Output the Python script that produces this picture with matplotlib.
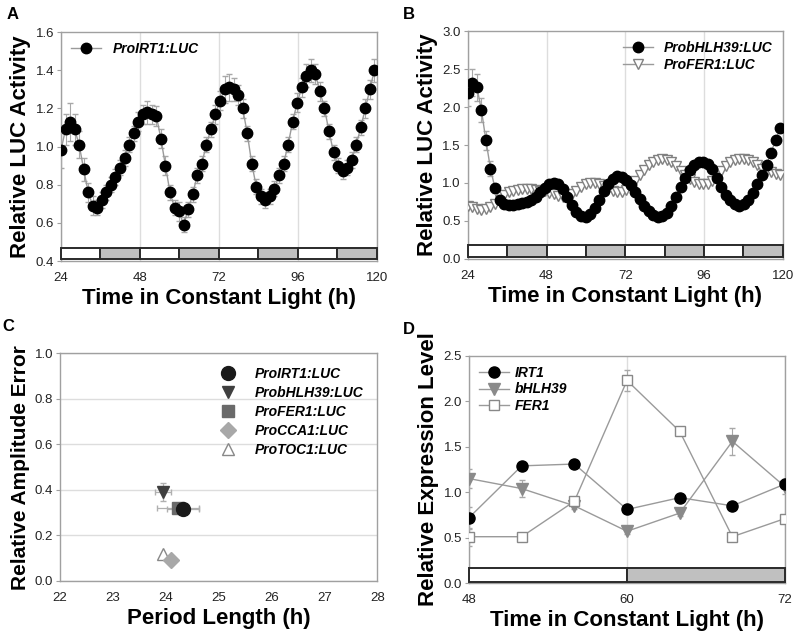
import numpy as np
import matplotlib
matplotlib.use("Agg")
import matplotlib.pyplot as plt
from matplotlib.patches import Rectangle

plt.rcParams["font.family"] = ["Liberation Sans", "DejaVu Sans"]

# ---------- data ----------
# panels A/B: sampled roughly every 1.38 h from 24 h
t_luc = 24 + 1.38 * np.arange(70)

irt1_luc = [0.98, 1.09, 1.13, 1.09, 1.01, 0.88, 0.76, 0.69, 0.68, 0.72,
            0.76, 0.80, 0.84, 0.89, 0.94, 1.01, 1.07, 1.13, 1.17, 1.18,
            1.17, 1.16, 1.04, 0.90, 0.76, 0.68, 0.66, 0.59, 0.67, 0.75,
            0.85, 0.91, 1.01, 1.09, 1.17, 1.24, 1.30, 1.31, 1.30, 1.27,
            1.20, 1.07, 0.91, 0.79, 0.74, 0.72, 0.74, 0.78, 0.85, 0.91,
            1.01, 1.13, 1.23, 1.31, 1.37, 1.40, 1.38, 1.29, 1.20, 1.08,
            0.97, 0.90, 0.87, 0.89, 0.93, 1.01, 1.10, 1.20, 1.30, 1.40]
irt1_err = [0.09, 0.08, 0.10, 0.08, 0.07, 0.06, 0.05, 0.05, 0.04, 0.04,
            0.04, 0.04, 0.04, 0.04, 0.04, 0.04, 0.04, 0.05, 0.05, 0.06,
            0.05, 0.05, 0.05, 0.05, 0.04, 0.04, 0.05, 0.04, 0.04, 0.04,
            0.04, 0.04, 0.04, 0.04, 0.05, 0.05, 0.07, 0.07, 0.06, 0.05,
            0.05, 0.04, 0.04, 0.04, 0.04, 0.04, 0.04, 0.04, 0.04, 0.04,
            0.04, 0.04, 0.05, 0.05, 0.06, 0.06, 0.05, 0.05, 0.04, 0.04,
            0.04, 0.04, 0.04, 0.04, 0.04, 0.04, 0.04, 0.05, 0.05, 0.06]

bhlh39_luc = [2.19, 2.32, 2.26, 1.96, 1.56, 1.19, 0.93, 0.78, 0.72, 0.71,
              0.71, 0.72, 0.73, 0.75, 0.78, 0.82, 0.88, 0.94, 0.98, 1.00,
              0.98, 0.92, 0.82, 0.71, 0.62, 0.56, 0.55, 0.59, 0.67, 0.78,
              0.89, 0.98, 1.05, 1.09, 1.08, 1.04, 0.97, 0.88, 0.79, 0.70,
              0.63, 0.58, 0.55, 0.56, 0.61, 0.70, 0.82, 0.95, 1.07, 1.17,
              1.23, 1.27, 1.28, 1.25, 1.18, 1.07, 0.95, 0.84, 0.77, 0.72,
              0.70, 0.72, 0.78, 0.87, 0.98, 1.10, 1.24, 1.40, 1.56, 1.72]
bhlh39_err = [0.17, 0.18, 0.18, 0.16, 0.13, 0.10, 0.06] + [0.03] * 63

fer1_luc = [0.70, 0.68, 0.66, 0.65, 0.66, 0.68, 0.72, 0.78, 0.84, 0.88,
            0.90, 0.91, 0.92, 0.92, 0.92, 0.91, 0.90, 0.89, 0.87, 0.85,
            0.83, 0.82, 0.83, 0.86, 0.90, 0.95, 0.98, 1.00, 1.00, 0.99,
            0.96, 0.92, 0.89, 0.88, 0.88, 0.91, 0.96, 1.03, 1.10, 1.17,
            1.23, 1.27, 1.30, 1.31, 1.30, 1.27, 1.22, 1.16, 1.10, 1.05,
            1.01, 0.99, 0.98, 0.99, 1.03, 1.09, 1.16, 1.22, 1.27, 1.30,
            1.32, 1.32, 1.30, 1.27, 1.23, 1.19, 1.16, 1.14, 1.12, 1.10]

# subjective light / dark periods (start, end, dark?)
periods_ab = [(24, 36, False), (36, 48, True), (48, 60, False), (60, 72, True),
              (72, 84, False), (84, 96, True), (96, 108, False), (108, 120, True)]
periods_d = [(48, 60, False), (60, 72, True)]

# panel C: period length vs relative amplitude error
c_names = ["ProIRT1:LUC", "ProbHLH39:LUC", "ProFER1:LUC", "ProCCA1:LUC", "ProTOC1:LUC"]
c_period = [24.32, 23.94, 24.23, 24.10, 23.95]
c_period_err = [0.30, 0.15, 0.40, 0.0, 0.0]
c_rae = [0.315, 0.39, 0.32, 0.09, 0.12]
c_rae_err = [0.0, 0.04, 0.0, 0.0, 0.0]

# panel D: qRT-PCR
t_d = [48, 52, 56, 60, 64, 68, 72]
irt1_d = [0.72, 1.29, 1.31, 0.81, 0.94, 0.85, 1.09]
irt1_d_err = [0.12, 0.03, 0.03, 0.03, 0.03, 0.03, 0.05]
bhlh39_d = [1.15, 1.04, 0.85, 0.57, 0.77, 1.56, 1.06]
bhlh39_d_err = [0.10, 0.09, 0.03, 0.03, 0.03, 0.15, 0.08]
fer1_d = [0.51, 0.51, 0.90, 2.23, 1.67, 0.51, 0.71]
fer1_d_err = [0.10, 0.02, 0.03, 0.12, 0.03, 0.03, 0.03]

# ---------- figure ----------
fig = plt.figure(figsize=(7.97, 6.36), dpi=100)
axA = fig.add_axes([0.0765, 0.5896, 0.3965, 0.360])
axB = fig.add_axes([0.587, 0.593, 0.395, 0.358])
axC = fig.add_axes([0.0753, 0.0865, 0.398, 0.358])
axD = fig.add_axes([0.5885, 0.0833, 0.3965, 0.357])

spine_col = "#a0a0a0"
line_col = "#9a9a9a"
err_col = "#a8a8a8"
lab_font = dict(fontsize=16, fontweight="bold")
leg_font = dict(size=10, weight="bold", style="italic")


def style(ax):
    for s in ax.spines.values():
        s.set_color(spine_col)
        s.set_linewidth(1.0)
    ax.tick_params(axis="y", labelsize=9.5, length=3, color=spine_col, pad=2,
                   labelcolor="#222222")
    ax.tick_params(axis="x", labelsize=9.5, length=0, pad=8, labelcolor="#222222")


def day_bar(ax, periods, y0, h):
    for a, b, dark in periods:
        ax.add_patch(Rectangle((a, y0), b - a, h, facecolor="#c0c0c0" if dark else "white",
                               edgecolor="#2a2a2a", linewidth=1.4, zorder=3, clip_on=False))


def series(ax, x, y, err, marker, fc, ec, ms, label, z):
    if err is not None:
        ax.errorbar(x, y, yerr=err, fmt="none", ecolor=err_col, elinewidth=0.8,
                    capsize=2, zorder=z - 0.5)
    ax.plot(x, y, "-", marker=marker, color=line_col, lw=1, mfc=fc, mec=ec,
            ms=ms, label=label, zorder=z)


# A
style(axA)
series(axA, t_luc, irt1_luc, irt1_err, "o", "black", "black", 7.5, "ProIRT1:LUC", 4)
axA.set_xlim(24, 120)
axA.set_ylim(0.4, 1.6)
axA.set_xticks([24, 48, 72, 96, 120])
axA.set_yticks(np.arange(0.4, 1.61, 0.2))
axA.yaxis.set_major_formatter(matplotlib.ticker.FormatStrFormatter("%.1f"))
axA.grid(axis="x", color="#dddddd", lw=1)
day_bar(axA, periods_ab, 0.412, 0.055)
axA.set_xlabel("Time in Constant Light (h)", **lab_font, labelpad=3)
axA.set_ylabel("Relative LUC Activity", **lab_font, labelpad=3)
axA.legend(loc="upper left", frameon=False, prop=leg_font, handlelength=2.2,
           borderaxespad=0.3, handletextpad=0.8)

# B
style(axB)
series(axB, t_luc, fer1_luc, None, "v", "white", "#808080", 6.5, "ProFER1:LUC", 4)
series(axB, t_luc, bhlh39_luc, bhlh39_err, "o", "black", "black", 7.5, "ProbHLH39:LUC", 5)
axB.set_xlim(24, 120)
axB.set_ylim(0, 3.0)
axB.set_xticks([24, 48, 72, 96, 120])
axB.set_yticks(np.arange(0, 3.01, 0.5))
axB.yaxis.set_major_formatter(matplotlib.ticker.FormatStrFormatter("%.1f"))
axB.grid(axis="x", color="#dddddd", lw=1)
day_bar(axB, periods_ab, 0.03, 0.15)
axB.set_xlabel("Time in Constant Light (h)", **lab_font, labelpad=3)
axB.set_ylabel("Relative LUC Activity", **lab_font, labelpad=3)
h, l = axB.get_legend_handles_labels()
axB.legend(h[::-1], l[::-1], loc="upper right", frameon=False, prop=leg_font,
           handlelength=2.2, borderaxespad=0.3, handletextpad=0.8, labelspacing=0.2)

# C
style(axC)
c_markers = ["o", "v", "s", "D", "^"]
c_face = ["#1a1a1a", "#3f3f3f", "#6a6a6a", "#a8a8a8", "white"]
c_edge = ["#1a1a1a", "#3f3f3f", "#6a6a6a", "#a8a8a8", "#888888"]
c_size = [10, 9, 9, 8, 9]
for i in range(len(c_names)):
    if c_period_err[i] or c_rae_err[i]:
        axC.errorbar(c_period[i], c_rae[i],
                     xerr=c_period_err[i] if c_period_err[i] else None,
                     yerr=c_rae_err[i] if c_rae_err[i] else None,
                     fmt="none", ecolor="#b0b0b0", elinewidth=0.9, capsize=2, zorder=1)
    axC.plot(c_period[i], c_rae[i], c_markers[i], mfc=c_face[i], mec=c_edge[i],
             ms=c_size[i], label=c_names[i], zorder=6 - i)
axC.set_xlim(22, 28)
axC.set_ylim(0, 1.0)
axC.set_yticks(np.arange(0, 1.01, 0.2))
axC.yaxis.set_major_formatter(matplotlib.ticker.FormatStrFormatter("%.1f"))
axC.grid(axis="y", color="#dddddd", lw=1)
axC.set_axisbelow(True)
axC.set_xlabel("Period Length (h)", **lab_font, labelpad=3)
axC.set_ylabel("Relative Amplitude Error", fontsize=15, fontweight="bold", labelpad=3)
axC.legend(loc="upper right", frameon=False, prop=leg_font, handletextpad=0.9,
           labelspacing=0.35, borderaxespad=0.6)

# D
style(axD)
series(axD, t_d, irt1_d, irt1_d_err, "o", "black", "black", 8, "IRT1", 5)
series(axD, t_d, bhlh39_d, bhlh39_d_err, "v", "#8a8a8a", "#8a8a8a", 8, "bHLH39", 4)
series(axD, t_d, fer1_d, fer1_d_err, "s", "white", "#888888", 7.5, "FER1", 4)
axD.set_xlim(48, 72)
axD.set_ylim(0, 2.5)
axD.set_xticks([48, 60, 72])
axD.set_yticks(np.arange(0, 2.51, 0.5))
axD.yaxis.set_major_formatter(matplotlib.ticker.FormatStrFormatter("%.1f"))
axD.grid(axis="x", color="#dddddd", lw=1)
day_bar(axD, periods_d, 0.01, 0.15)
axD.set_xlabel("Time in Constant Light (h)", **lab_font, labelpad=3)
axD.set_ylabel("Relative Expression Level", **lab_font, labelpad=3)
axD.legend(loc="upper left", frameon=False, prop=leg_font, handlelength=2.2,
           borderaxespad=0.3, handletextpad=0.4, labelspacing=0.2)

# panel letters
for x, y, s in [(0.008, 0.977, "A"), (0.506, 0.977, "B"), (0.003, 0.487, "C"), (0.506, 0.482, "D")]:
    fig.text(x, y, s, fontsize=12, fontweight="bold", va="center")

fig.savefig("out.png", dpi=100)
